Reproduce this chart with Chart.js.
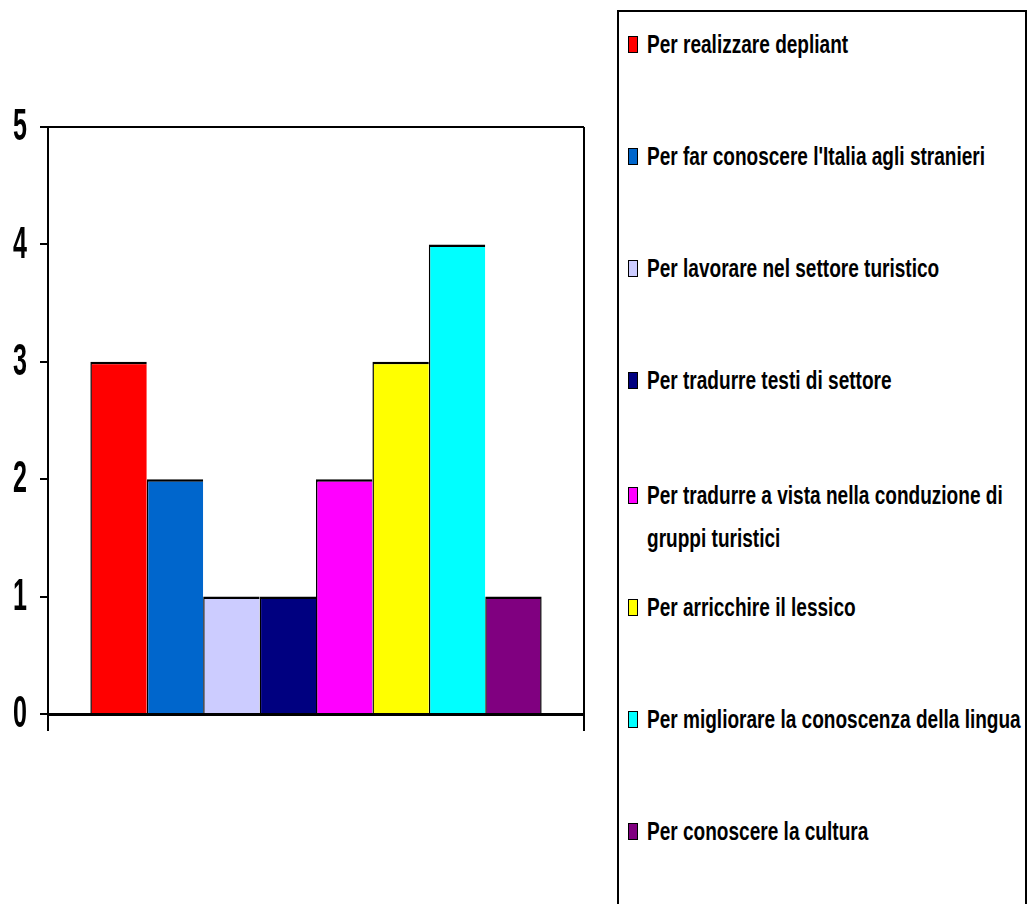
<!DOCTYPE html>
<html>
<head>
<meta charset="utf-8">
<script src="https://cdn.jsdelivr.net/npm/chart.js@4/dist/chart.umd.min.js"></script>
<style>
  html, body { margin: 0; padding: 0; background: #fff; }
  body { width: 1035px; height: 904px; position: relative; overflow: hidden; }
  #wrap { position: absolute; left: 0; top: 0; width: 600px; height: 904px; }
  #legend {
    position: absolute; left: 617px; top: 10px; width: 410px; height: 940px;
    border: 2px solid #000; box-sizing: border-box; background: #fff;
    font-family: "Liberation Sans", Arial, sans-serif;
    font-weight: bold; font-size: 25px; color: #000;
  }
  .item { position: absolute; left: 9px; right: 0; line-height: 43px; }
  .sw { position: absolute; left: 0; top: 13px; width: 8px; height: 15px; border: 1px solid #000; }
  .tx { position: absolute; left: 19px; top: 0; white-space: nowrap; transform: scaleX(0.762); transform-origin: 0 50%; }
</style>
</head>
<body>
<div id="wrap"><canvas id="c"></canvas></div>
<div id="legend"></div>
<script>
const categories = [''];
const seriesNames = [
  'Per realizzare depliant',
  "Per far conoscere l'Italia agli stranieri",
  'Per lavorare nel settore turistico',
  'Per tradurre testi di settore',
  'Per tradurre a vista nella conduzione di|gruppi turistici',
  'Per arricchire il lessico',
  'Per migliorare la conoscenza della lingua',
  'Per conoscere la cultura'
];
const seriesValues = [3, 2, 1, 1, 2, 3, 4, 1];
const seriesColors = ['#FF0000', '#0066CC', '#CCCCFF', '#000080', '#FF00FF', '#FFFF00', '#00FFFF', '#800080'];
const yTicks = [0, 1, 2, 3, 4, 5];

const datasets = seriesNames.map((name, i) => ({
  label: name.replace('|', ' '),
  data: [seriesValues[i]],
  backgroundColor: seriesColors[i],
  borderColor: '#000',
  borderWidth: { top: 2.5, left: 1.5, right: i === seriesNames.length - 1 ? 1.5 : 0, bottom: 0 },
  borderSkipped: false,
  categoryPercentage: 0.842,
  barPercentage: 1
}));

const tickLabelPlugin = {
  id: 'squishedTicks',
  afterDraw(chart) {
    const sc = chart.scales.y;
    const ctx = chart.ctx;
    ctx.save();
    ctx.font = 'bold 44px "Liberation Sans", Arial, sans-serif';
    ctx.fillStyle = '#000';
    ctx.textAlign = 'right';
    ctx.textBaseline = 'middle';
    sc.ticks.forEach((t, i) => {
      const y = sc.getPixelForTick(i);
      ctx.save();
      ctx.translate(27, y + 1);
      ctx.scale(0.57, 1);
      ctx.fillText(String(t.value), 0, 0);
      ctx.restore();
    });
    ctx.restore();
  }
};

const canvas = document.getElementById('c');
canvas.width = 600; canvas.height = 904;
const chart = new Chart(canvas, {
  type: 'bar',
  data: { labels: categories, datasets },
  options: {
    responsive: false,
    animation: false,
    devicePixelRatio: 1,
    layout: { padding: { top: 127, right: 16, bottom: 173, left: 0 } },
    plugins: { legend: { display: false }, tooltip: { enabled: false } },
    scales: {
      x: {
        offset: true,
        grid: { offset: true, color: '#000', lineWidth: 2, tickLength: 17, drawTicks: true },
        border: { display: true, color: '#000', width: 3 },
        ticks: { display: false },
        afterFit(s) { s.height = 17; }
      },
      y: {
        min: 0, max: 5,
        afterBuildTicks(s) { s.ticks = yTicks.map(v => ({ value: v })); },
        grid: {
          color: (c) => (c.tick && c.tick.value === 5 ? '#000' : 'rgba(0,0,0,0)'),
          tickColor: '#000', lineWidth: 2, tickLength: 8
        },
        border: { display: true, color: '#000', width: 2 },
        ticks: { display: false },
        afterFit(s) { s.width = 48; }
      }
    }
  },
  plugins: [tickLabelPlugin]
});

// HTML legend built from the chart's datasets
const legend = document.getElementById('legend');
const step = 112;
seriesNames.forEach((name, i) => {
  const it = document.createElement('div');
  it.className = 'item';
  it.style.top = (44 - 10 - 2 - 21.5 + i * step + (i >= 4 ? 3 : 0)) + 'px';
  const sw = document.createElement('span');
  sw.className = 'sw';
  sw.style.background = chart.data.datasets[i].backgroundColor;
  const tx = document.createElement('span');
  tx.className = 'tx';
  tx.innerHTML = name.split('|').map(s => s.replace(/&/g, '&amp;').replace(/</g, '&lt;')).join('<br>');
  it.appendChild(sw); it.appendChild(tx);
  legend.appendChild(it);
});
</script>
</body>
</html>
